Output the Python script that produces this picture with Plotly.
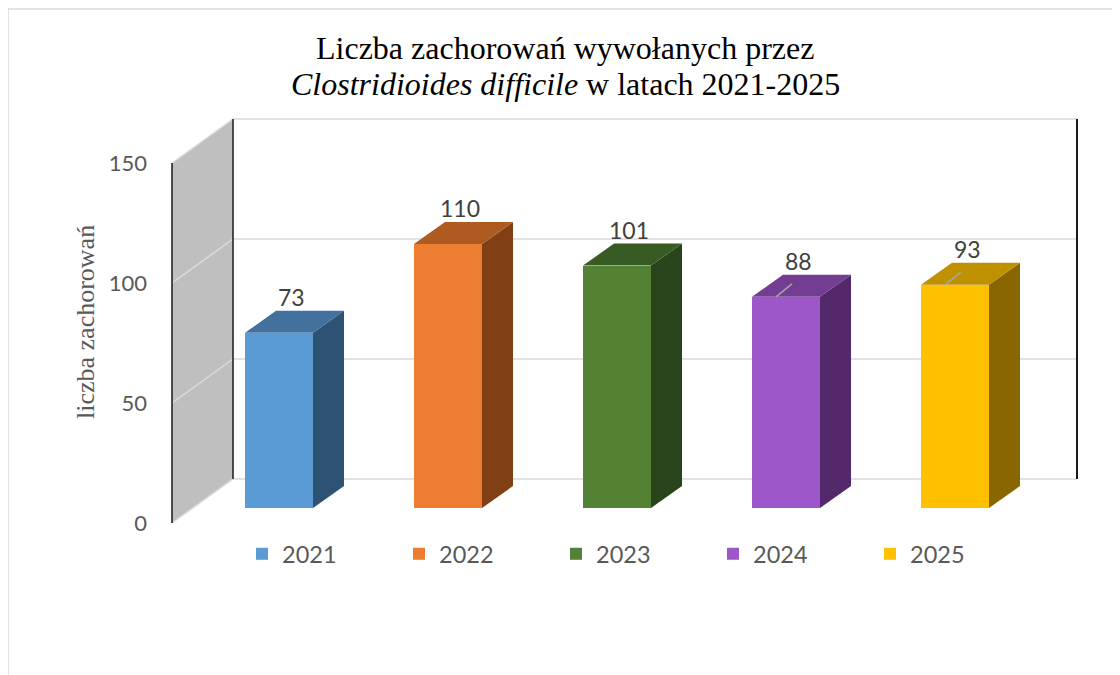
import plotly.graph_objects as go

# ---------------- data ----------------
years = ["2021", "2022", "2023", "2024", "2025"]
cases = [73, 110, 101, 88, 93]
y_ticks = [0, 50, 100, 150]
front_colors = ["#5B9BD5", "#ED7D31", "#548235", "#9E57C8", "#FFC000"]
side_colors = ["#2E5273", "#813F14", "#29441A", "#53296B", "#896600"]
top_colors = ["#41719C", "#AE5A21", "#385B24", "#723D93", "#BF9000"]
leader_years = ["2024", "2025"]

# ---------------- geometry (screen pixels) ----------------
FIG_W, FIG_H = 1120, 675
OFF = 8                      # page body margin
L_s, R_s, T_s, B_s = 148, 1100, 100, 570
W, H = R_s - L_s, B_s - T_s
PX_X = 169.0      # px per category step
X0 = 279.0        # px of first category centre
PX_Y = 2.4        # px per value unit
BAR_ZERO = 508.0  # px of value 0 on the bar front plane
WALL_ZERO = 523.0 # px of value 0 on the wall front plane

def fx(px):
    return (px - X0) / PX_X

def dxu(px):
    return px / PX_X

def dyu(px):
    return px / PX_Y

def pxp(px):
    return (px - L_s) / W

def pyp(py):
    return (B_s - py) / H

bar_w = dxu(68)
bar_dx, bar_dy = dxu(31), dyu(22)
wall_dy = dyu(44)
wall_front_x = fx(172)
wall_back_x = fx(233)
wall_right_x = fx(1077)
ymax = y_ticks[-1]

fig = go.Figure()

for i, (yr, v) in enumerate(zip(years, cases)):
    fig.add_trace(go.Bar(
        x=[i], y=[v], name=yr, width=bar_w,
        marker=dict(color=front_colors[i], line=dict(width=0)),
        hoverinfo="name+y",
    ))

# invisible trace for the wall / tick-label axis
fig.add_trace(go.Scatter(x=[], y=[], yaxis="y2", showlegend=False, hoverinfo="skip"))

shapes = []
grid_c = "#D9D9D9"
# chart border
shapes.append(dict(type="rect", xref="paper", yref="paper",
                   x0=pxp(8), x1=pxp(1140), y0=pyp(9), y1=pyp(700),
                   line=dict(color=grid_c, width=1.5), fillcolor="rgba(0,0,0,0)", layer="below"))
# side wall
shapes.append(dict(type="path", xref="x", yref="y2", layer="below",
                   path=f"M{wall_front_x},0 L{wall_front_x},{ymax} L{wall_back_x},{ymax + wall_dy} L{wall_back_x},{wall_dy} Z",
                   fillcolor="#BFBFBF", line=dict(width=0)))
for g in y_ticks:
    shapes.append(dict(type="line", xref="x", yref="y2", layer="below",
                       x0=wall_back_x, x1=wall_right_x, y0=g + wall_dy, y1=g + wall_dy,
                       line=dict(color=grid_c, width=1.5)))
    shapes.append(dict(type="line", xref="x", yref="y2", layer="below",
                       x0=wall_front_x, x1=wall_back_x, y0=g, y1=g + wall_dy,
                       line=dict(color="#DCDCDC", width=1.5)))
# wall edges
shapes.append(dict(type="line", xref="x", yref="y2", layer="below",
                   x0=wall_front_x, x1=wall_front_x, y0=0, y1=ymax,
                   line=dict(color="#1A1A1A", width=1.5)))
shapes.append(dict(type="line", xref="x", yref="y2", layer="below",
                   x0=wall_back_x, x1=wall_back_x, y0=wall_dy, y1=ymax + wall_dy,
                   line=dict(color="#1A1A1A", width=1.5)))
shapes.append(dict(type="line", xref="x", yref="y2", layer="below",
                   x0=wall_right_x, x1=wall_right_x, y0=wall_dy, y1=ymax + wall_dy,
                   line=dict(color="#1A1A1A", width=2)))

annotations = []
for i, (yr, v) in enumerate(zip(years, cases)):
    xl, xr = i - bar_w / 2, i + bar_w / 2
    shapes.append(dict(type="path", xref="x", yref="y", layer="above",
                       path=f"M{xr},0 L{xr},{v} L{xr + bar_dx},{v + bar_dy} L{xr + bar_dx},{bar_dy} Z",
                       fillcolor=side_colors[i], line=dict(width=0)))
    shapes.append(dict(type="path", xref="x", yref="y", layer="above",
                       path=f"M{xl},{v} L{xr},{v} L{xr + bar_dx},{v + bar_dy} L{xl + bar_dx},{v + bar_dy} Z",
                       fillcolor=top_colors[i], line=dict(width=0)))
    if yr in leader_years:
        shapes.append(dict(type="line", xref="x", yref="y", layer="above",
                           x0=i - dxu(10), x1=i + dxu(6), y0=v, y1=v + dyu(13),
                           line=dict(color="#A6A6A6", width=1.5)))
    annotations.append(dict(x=i + dxu(12), y=v + bar_dy - dyu(2), xref="x", yref="y",
                            text=str(v), showarrow=False, xanchor="center", yanchor="bottom",
                            font=dict(family="Lato", size=23, color="#404040")))

# title (two lines)
annotations.append(dict(x=pxp(565), y=pyp(48), xref="paper", yref="paper", showarrow=False,
                        xanchor="center", yanchor="middle",
                        text="Liczba zachorowań wywołanych przez",
                        font=dict(family="Liberation Serif", size=32, color="#000000")))
annotations.append(dict(x=pxp(565), y=pyp(84), xref="paper", yref="paper", showarrow=False,
                        xanchor="center", yanchor="middle",
                        text="<i>Clostridioides difficile</i> w latach 2021-2025",
                        font=dict(family="Liberation Serif", size=32, color="#000000")))
# y axis title
annotations.append(dict(x=pxp(85), y=pyp(322), xref="paper", yref="paper", showarrow=False,
                        xanchor="center", yanchor="middle",
                        text="liczba zachorowań", textangle=-90,
                        font=dict(family="Liberation Serif", size=26, color="#595959")))

fig.update_layout(
    width=FIG_W, height=FIG_H, autosize=False,
    margin=dict(l=L_s - OFF, r=FIG_W - (R_s - OFF), t=T_s - OFF, b=FIG_H - (B_s - OFF), pad=0),
    paper_bgcolor="white", plot_bgcolor="white",
    barmode="overlay", bargap=0,
    showlegend=True,
    legend=dict(orientation="h", x=pxp(242), y=pyp(554), xanchor="left", yanchor="middle",
                entrywidth=112, entrywidthmode="pixels",
                font=dict(family="Lato", size=23.5, color="#595959"),
                bgcolor="rgba(0,0,0,0)", traceorder="normal"),
    xaxis=dict(range=[fx(L_s), fx(R_s)], visible=False, fixedrange=True),
    yaxis=dict(range=[(BAR_ZERO - B_s) / PX_Y, (BAR_ZERO - T_s) / PX_Y], visible=False, fixedrange=True),
    yaxis2=dict(range=[(WALL_ZERO - B_s) / PX_Y, (WALL_ZERO - T_s) / PX_Y], overlaying="y", side="left",
                anchor="x", tickvals=y_ticks, ticktext=[str(t) for t in y_ticks],
                showgrid=False, zeroline=False, showline=False, ticks="",
                tickfont=dict(family="Lato", size=22, color="#595959"), fixedrange=True),
    shapes=shapes, annotations=annotations,
)

fig.write_html("out.html")
